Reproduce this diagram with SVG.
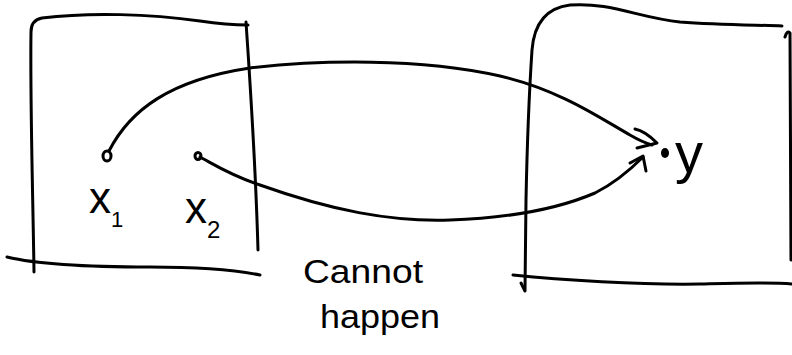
<svg xmlns="http://www.w3.org/2000/svg" width="792" height="355" viewBox="0 0 792 355">
<style>
.ink{fill:none;stroke:#000;stroke-width:3;stroke-linecap:round;stroke-linejoin:round}
.lbl{font-family:"Liberation Sans",Arial,sans-serif;fill:#000}
</style>
<rect width="792" height="355" fill="#fff"/>
<g id="domain-box">
<path class="ink" d="M34,272 C33,200 30,100 31,32 Q31,20 42,18 C90,12 150,14 200,21 C220,24 235,25 248,25"/>
<path class="ink" d="M246,22 C250,80 256,180 258,250"/>
<path class="ink" d="M7,257 C40,265 90,267 150,267 C200,267 235,270 260,275"/>
</g>
<g id="codomain-box">
<path class="ink" d="M525,290 L526,200 C527,150 530,80 532,50 C534,25 545,8 570,5 C610,2 640,18 680,22 C720,25 760,25 782,26"/>
<path class="ink" d="M521,283 L525,291"/>
<path class="ink" d="M513,275 C560,280 640,285 700,284 C740,283 770,282 792,284"/>
<path class="ink" d="M785,37 Q787,30 790,33 L791,260"/>
</g>
<g id="x1">
<ellipse class="ink" cx="107" cy="156" rx="4" ry="5"/>
<text class="lbl" x="89" y="213" font-size="44">x<tspan font-size="22" dy="14">1</tspan></text>
</g>
<g id="x2">
<ellipse class="ink" cx="198" cy="156" rx="3" ry="3.5"/>
<text class="lbl" x="185" y="223" font-size="44">x<tspan font-size="24" dy="15">2</tspan></text>
</g>
<g id="y">
<ellipse cx="665" cy="153" rx="4" ry="5" fill="#000"/>
<text class="lbl" x="675" y="172" font-size="56">y</text>
</g>
<g id="note">
<text class="lbl" x="303" y="283" font-size="34" textLength="120" lengthAdjust="spacingAndGlyphs">Cannot</text>
<text class="lbl" x="320" y="328" font-size="34" textLength="120" lengthAdjust="spacingAndGlyphs">happen</text>
</g>
<g id="connectors">
<path class="ink" d="M109,151 C130,110 170,80 250,68 C320,60 420,58 500,76 C560,90 600,118 630,135 Q642,142 652,145"/>
<path class="ink" d="M635,129 Q645,131 657,143 L637,148"/>
<path class="ink" d="M200,157 C215,165 230,175 260,185 C330,210 390,222 450,220 C510,218 560,208 595,193 C615,183 630,170 643,157"/>
<path class="ink" d="M630,163 L643,156 L646,171"/>
</g>
</svg>
